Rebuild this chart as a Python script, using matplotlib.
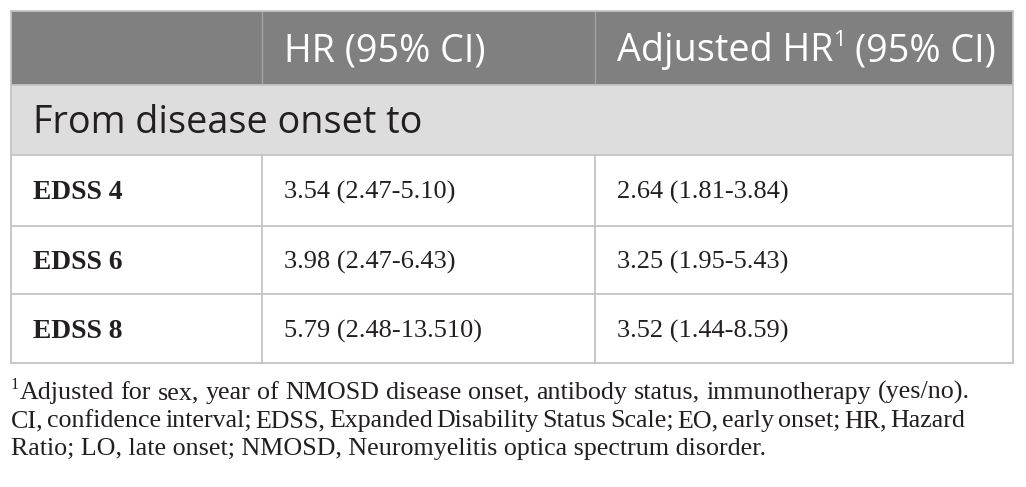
import matplotlib
matplotlib.use("Agg")
import matplotlib.pyplot as plt
from matplotlib.patches import Rectangle

# ---- data ----
col_headers = ["", "HR (95% CI)", "Adjusted HR", "1", "(95% CI)"]
section_label = "From disease onset to"
row_labels = ["EDSS 4", "EDSS 6", "EDSS 8"]
hr_values = ["3.54 (2.47-5.10)", "3.98 (2.47-6.43)", "5.79 (2.48-13.510)"]
adj_values = ["2.64 (1.81-3.84)", "3.25 (1.95-5.43)", "3.52 (1.44-8.59)"]
footnote_lines = [
    "Adjusted for sex, year of NMOSD disease onset, antibody status, immunotherapy (yes/no).",
    "CI, confidence interval; EDSS, Expanded Disability Status Scale; EO, early onset; HR, Hazard",
    "Ratio; LO, late onset; NMOSD, Neuromyelitis optica spectrum disorder.",
]

W, H, DPI = 1026, 487, 100
fig = plt.figure(figsize=(W / DPI, H / DPI), dpi=DPI)
ax = fig.add_axes([0, 0, 1, 1])
ax.set_xlim(0, W)
ax.set_ylim(H, 0)
ax.axis("off")
renderer = fig.canvas.get_renderer()

SANS = "Open Sans"
SERIF = "Liberation Serif"
TXT = "#231f20"
HDR_BG = "#808080"
SEC_BG = "#dddddd"
BORDER = "#c4c4c4"

# layout (pixels)
x_cols = [11, 262, 595, 1013]
y_rows = [11, 84.5, 155, 225.5, 294, 363]
pad = 22

def px(fs):
    return fs * DPI / 72.0

def width(t):
    return t.get_window_extent(renderer).width

def put(x, ycenter, s, fs, family, cap=0.714, **kw):
    base = ycenter + cap * px(fs) / 2.0
    return ax.text(x, base, s, fontsize=fs, family=family, va="baseline", ha="left", **kw)

# backgrounds
ax.add_patch(Rectangle((x_cols[0], y_rows[0]), x_cols[-1] - x_cols[0], y_rows[1] - y_rows[0],
                       facecolor=HDR_BG, edgecolor="none"))
ax.add_patch(Rectangle((x_cols[0], y_rows[1]), x_cols[-1] - x_cols[0], y_rows[2] - y_rows[1],
                       facecolor=SEC_BG, edgecolor="none"))

lw = 1.3
for xc in x_cols[1:-1]:
    ax.plot([xc, xc], [y_rows[0], y_rows[1]], color="#a3a3a3", lw=1.0)
for yr in y_rows:
    ax.plot([x_cols[0], x_cols[-1]], [yr, yr], color=BORDER, lw=lw)
for xc in (x_cols[0], x_cols[-1]):
    ax.plot([xc, xc], [y_rows[0], y_rows[-1]], color=BORDER, lw=lw)
for xc in x_cols[1:-1]:
    ax.plot([xc, xc], [y_rows[2], y_rows[-1]], color=BORDER, lw=lw)

# header text
HFS = 27.2
hc = (y_rows[0] + y_rows[1]) / 2
put(x_cols[1] + pad, hc, col_headers[1], HFS, SANS, color="white")
t1 = put(x_cols[2] + pad, hc, col_headers[2], HFS, SANS, color="white")
xs = x_cols[2] + pad + width(t1) + 1
base = hc + 0.714 * px(HFS) / 2.0
ts = ax.text(xs, base - 0.40 * px(HFS), col_headers[3], fontsize=HFS * 0.58, family=SANS,
             color="white", va="baseline", ha="left")
put(xs + width(ts) + 8, hc, col_headers[4], HFS, SANS, color="white")

# section row
put(x_cols[0] + pad, (y_rows[1] + y_rows[2]) / 2, section_label, HFS, SANS, color=TXT)

# body rows
BFS_B = 19.8
BFS = 19.0
for i, (lab, a, b) in enumerate(zip(row_labels, hr_values, adj_values)):
    yc = (y_rows[i + 2] + y_rows[i + 3]) / 2
    put(x_cols[0] + pad, yc, lab, BFS_B, SERIF, cap=0.662, color=TXT, weight="bold")
    put(x_cols[1] + pad, yc, a, BFS, SERIF, cap=0.662, color=TXT)
    put(x_cols[2] + pad, yc, b, BFS, SERIF, cap=0.662, color=TXT)

# footnote
FFS = 18.7
fx0 = 11
baselines = [399, 427, 455]

def draw_justified(x0, x1, yb, text, fs, first_sup=None):
    words = text.split(" ")
    xstart = x0
    if first_sup is not None:
        st = ax.text(xstart, yb - 0.38 * px(fs), first_sup, fontsize=fs * 0.62, family=SERIF,
                     color=TXT, va="baseline", ha="left")
        xstart += width(st) + 0.5
    arts = [ax.text(0, yb, w, fontsize=fs, family=SERIF, color=TXT, va="baseline", ha="left")
            for w in words]
    ws = [width(a) for a in arts]
    gap = (x1 - xstart - sum(ws)) / (len(words) - 1)
    x = xstart
    for a, w in zip(arts, ws):
        a.set_x(x)
        x += w + gap

draw_justified(fx0, 970, baselines[0], footnote_lines[0], FFS, first_sup="1")
draw_justified(fx0, 965, baselines[1], footnote_lines[1], FFS)
ax.text(fx0, baselines[2], footnote_lines[2], fontsize=FFS, family=SERIF, color=TXT,
        va="baseline", ha="left")

fig.savefig("out.png", dpi=DPI, facecolor="white")
